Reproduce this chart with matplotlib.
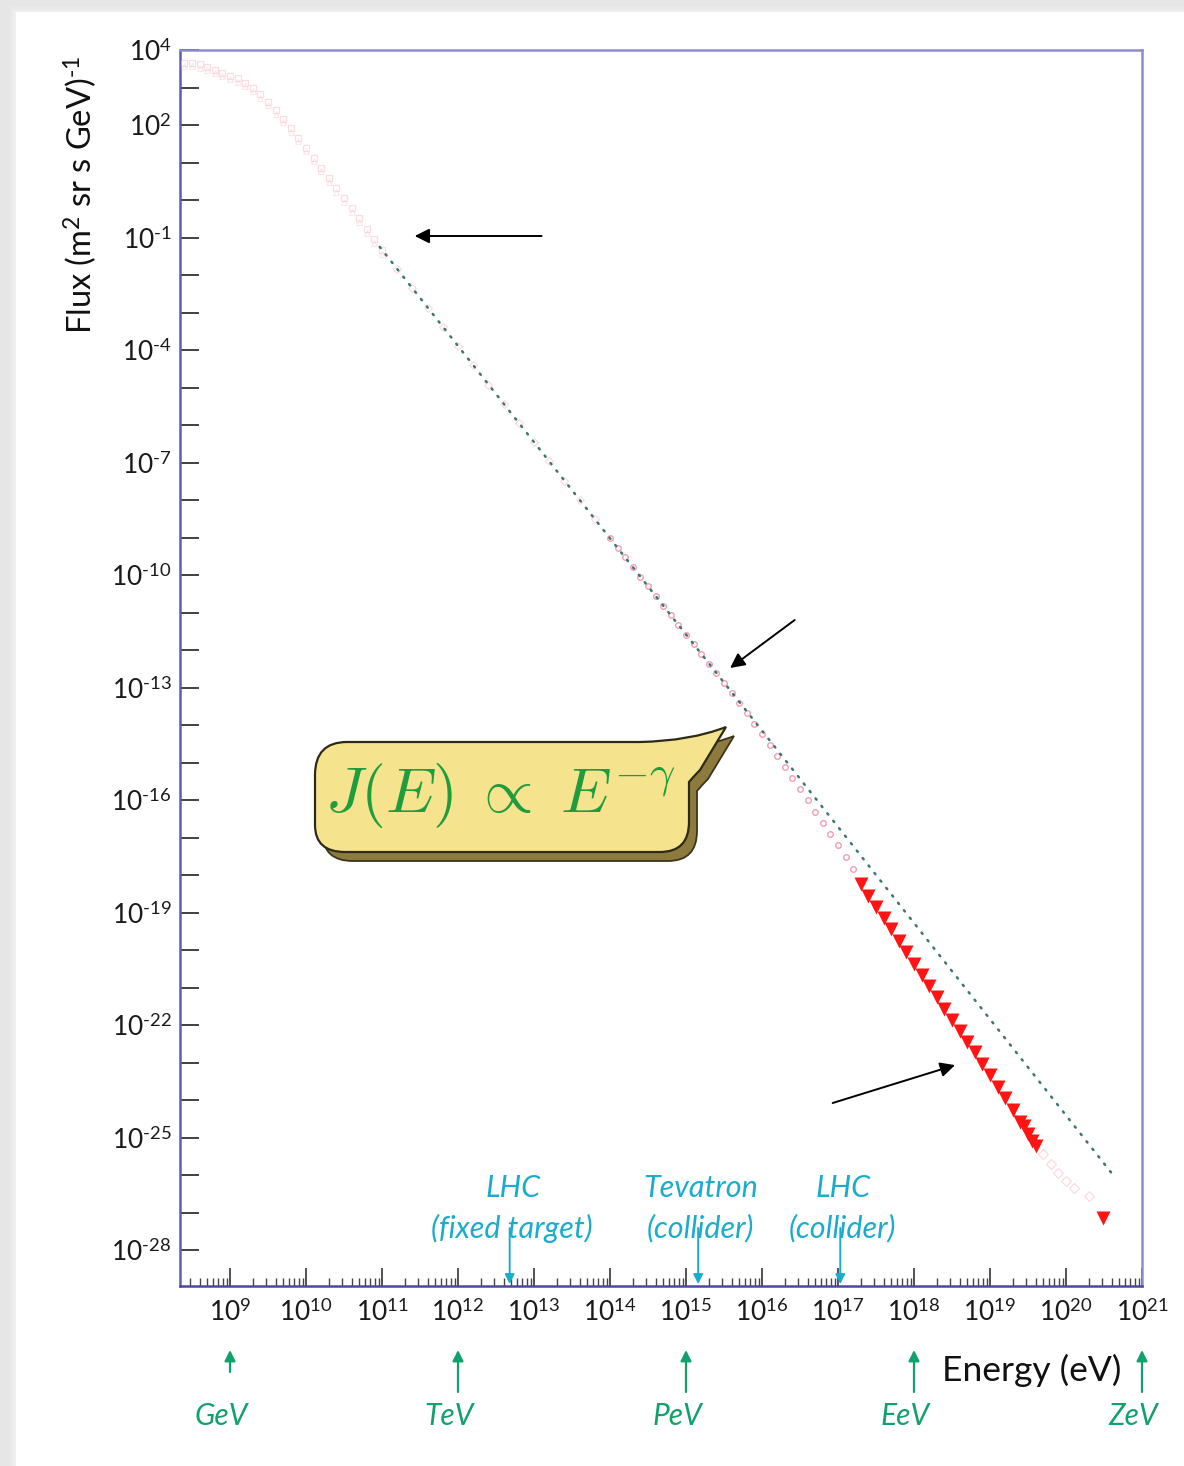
import matplotlib
matplotlib.use("Agg")
import numpy as np
import matplotlib.pyplot as plt
from matplotlib.path import Path
from matplotlib.patches import PathPatch, Rectangle
from matplotlib import transforms as mtransforms
from matplotlib.ticker import FixedLocator, FuncFormatter, LogLocator, NullFormatter

plt.rcParams['font.family'] = ['Lato', 'DejaVu Sans']
plt.rcParams['mathtext.fontset'] = 'custom'
plt.rcParams['mathtext.rm'] = 'Lato'
plt.rcParams['mathtext.it'] = 'Lato:italic'
plt.rcParams['mathtext.bf'] = 'Lato:bold'

# ---------------- data (log10 of energy in eV, log10 of flux) ----------------
low_logE = [8.40, 8.50, 8.60, 8.70, 8.80, 8.90, 9.00, 9.10, 9.20, 9.30, 9.40,
            9.50, 9.60, 9.70, 9.80, 9.90, 10.00, 10.10, 10.20, 10.30, 10.40,
            10.50, 10.60, 10.70, 10.80, 10.90, 11.00]
low_logF = [3.66, 3.66, 3.63, 3.56, 3.48, 3.40, 3.32, 3.24, 3.13, 3.00, 2.82,
            2.62, 2.40, 2.17, 1.92, 1.66, 1.40, 1.13, 0.86, 0.59, 0.32,
            0.05, -0.22, -0.49, -0.77, -1.05, -1.33]

mid_logE = [11.2, 11.4, 11.6, 11.8, 12.0, 12.2, 12.4, 12.6, 12.8, 13.0,
            13.2, 13.4, 13.6, 13.8]
mid_logF = [-1.84, -2.35, -2.87, -3.38, -3.89, -4.41, -4.92, -5.43, -5.94,
            -6.46, -6.97, -7.48, -8.00, -8.51]

knee_logE = [14.0, 14.1, 14.2, 14.3, 14.4, 14.5, 14.6, 14.7, 14.8, 14.9,
             15.0, 15.1, 15.2, 15.3, 15.4, 15.5, 15.6, 15.7, 15.8, 15.9,
             16.0, 16.1, 16.2, 16.3, 16.4, 16.5, 16.6, 16.7, 16.8, 16.9,
             17.0, 17.1, 17.2]
knee_logF = [-9.02, -9.28, -9.53, -9.79, -10.05, -10.30, -10.56, -10.82,
             -11.07, -11.33, -11.59, -11.84, -12.10, -12.36, -12.61, -12.88,
             -13.14, -13.41, -13.68, -13.96, -14.24, -14.53, -14.82, -15.11,
             -15.41, -15.71, -16.01, -16.31, -16.61, -16.91, -17.21, -17.52,
             -17.84]

uhe_logE = [17.30, 17.40, 17.50, 17.60, 17.70, 17.80, 17.90, 18.00, 18.10,
            18.20, 18.30, 18.40, 18.50, 18.60, 18.70, 18.80, 18.90, 19.00,
            19.10, 19.20, 19.30, 19.40, 19.45, 19.50, 19.55, 19.60, 20.49]
uhe_logF = [-18.24, -18.55, -18.86, -19.15, -19.45, -19.76, -20.06, -20.36,
            -20.66, -20.95, -21.25, -21.56, -21.86, -22.16, -22.44, -22.73,
            -23.03, -23.34, -23.64, -23.95, -24.26, -24.58, -24.68, -24.90,
            -25.10, -25.22, -27.15]

tail_logE = [19.70, 19.80, 19.90, 20.00, 20.10, 20.30]
tail_logF = [-25.45, -25.70, -25.95, -26.15, -26.35, -26.55]

# power-law reference J(E) ~ E^-gamma
ref_logE = [10.97, 20.62]
ref_logF = [-1.25, -26.00]

# axis decades
x_label_decades = list(range(9, 22))
y_tick_decades = list(range(-28, 5))
y_label_decades = [4, 2, -1, -4, -7, -10, -13, -16, -19, -22, -25, -28]

# energy-unit markers
unit_names = ['GeV', 'TeV', 'PeV', 'EeV', 'ZeV']
unit_logE = [9, 12, 15, 18, 21]

# accelerator reach
acc_names = ['LHC\n(fixed target)', 'Tevatron\n(collider)', 'LHC\n(collider)']
acc_logE = [12.68, 15.16, 17.03]

# ---------------- figure ----------------
W, H = 1184, 1466
fig = plt.figure(figsize=(W / 100, H / 100), dpi=100, facecolor='#e6e6e6')
px = mtransforms.Affine2D().scale(1 / W, -1 / H).translate(0, 1) + fig.transFigure

# white card with a soft shadow edge
for i, a in enumerate([0.25, 0.35, 0.5]):
    fig.add_artist(Rectangle((10 + 2 * i, 7 + 2 * i), W, H, transform=px,
                             facecolor='#f4f4f4', edgecolor='none', alpha=a, zorder=0))
fig.add_artist(Rectangle((16, 12), W, H, transform=px, facecolor='white',
                         edgecolor='none', zorder=0))

ax = fig.add_axes([180 / W, 1 - 1286 / H, (1142 - 180) / W, (1286 - 50) / H])
ax.set_facecolor('none')
ax.set_xscale('log')
ax.set_yscale('log')
ax.set_xlim(10 ** 8.342, 1e21)
ax.set_ylim(10 ** -28.96, 1e4)

p = lambda v: 10.0 ** np.asarray(v)

# faint measurements
ax.plot(p(low_logE), p(low_logF), ls='none', marker='s', ms=5, mfc='none',
        mec='#f6bcc6', mew=0.9, alpha=0.5, zorder=3)
ax.plot(p(low_logE), p(low_logF) * 0.8, ls='none', marker='^', ms=5, mfc='none',
        mec='#f8ccd3', mew=0.8, alpha=0.45, zorder=3)
ax.plot(p(mid_logE), p(mid_logF), ls='none', marker='D', ms=4.5, mfc='none',
        mec='#f3b3bd', mew=0.8, alpha=0.5, zorder=3)
ax.plot(p(knee_logE), p(knee_logF), ls='none', marker='o', ms=4, mfc='none',
        mec='#ee7f93', mew=1.0, alpha=0.75, zorder=3)
ax.plot(p(tail_logE), p(tail_logF), ls='none', marker='D', ms=5, mfc='none',
        mec='#f4b8c2', mew=0.8, alpha=0.55, zorder=3)

# reference power law
ax.plot(p(ref_logE), p(ref_logF), ls=(0, (0.6, 3.2)), lw=1.8, color='#3f7470',
        dash_capstyle='round', zorder=4)

# ultra-high-energy points
ax.plot(p(uhe_logE), p(uhe_logF), ls='none', marker='v', ms=10, color='#ff1414',
        mec='none', zorder=5)

# ---------------- axes styling ----------------
for side, col in [('left', '#5e5eae'), ('bottom', '#4a4aa0'),
                  ('top', '#8e8ecc'), ('right', '#8e8ecc')]:
    ax.spines[side].set_color(col)
    ax.spines[side].set_linewidth(1.8)


def pow_label(d):
    if d < 0:
        return r'$10^{\text{-}%d}$' % (-d)
    return r'$10^{%d}$' % d


ax.xaxis.set_major_locator(FixedLocator([10.0 ** d for d in x_label_decades]))
ax.xaxis.set_minor_locator(LogLocator(base=10, subs=np.arange(2, 10), numticks=40))
ax.xaxis.set_major_formatter(FuncFormatter(lambda v, pos: pow_label(int(round(np.log10(v))))))
ax.xaxis.set_minor_formatter(NullFormatter())

ax.yaxis.set_major_locator(FixedLocator([10.0 ** d for d in y_tick_decades]))
ax.yaxis.set_minor_locator(FixedLocator([]))


def ylab(v, pos):
    d = int(round(np.log10(v)))
    return pow_label(d) if d in y_label_decades else ''


ax.yaxis.set_major_formatter(FuncFormatter(ylab))

ax.tick_params(axis='x', which='major', direction='in', length=13, width=1.2,
               color='#333333', pad=9, labelsize=19, labelcolor='#1a1a1a',
               top=False)
ax.tick_params(axis='x', which='minor', direction='in', length=6, width=1.0,
               color='#444444', top=False)
ax.tick_params(axis='y', which='major', direction='in', length=14, width=1.3,
               color='#333333', pad=6, labelsize=19, labelcolor='#1a1a1a',
               right=False)

# ---------------- annotations ----------------
arrow_kw = dict(arrowstyle='-|>', color='black', lw=1.4, mutation_scale=22,
                shrinkA=0, shrinkB=0)
ax.annotate('', xy=(10 ** 11.43, 10 ** -0.96), xytext=(10 ** 13.1, 10 ** -0.96),
            arrowprops=arrow_kw, zorder=6)
ax.annotate('', xy=(10 ** 15.58, 10 ** -12.48), xytext=(10 ** 16.43, 10 ** -11.2),
            arrowprops=arrow_kw, zorder=6)
ax.annotate('', xy=(10 ** 18.54, 10 ** -23.07), xytext=(10 ** 16.93, 10 ** -24.08),
            arrowprops=arrow_kw, zorder=6)

# speech bubble with the power-law formula
bubble_verts = [
    (347, 742), (640, 742), (690, 741), (726, 727),
    (700, 770), (694, 776), (689, 782), (689, 822),
    (689, 852), (660, 852), (345, 852),
    (315, 852), (315, 825), (315, 775),
    (315, 742), (347, 742), (347, 742),
]
bubble_codes = [
    Path.MOVETO, Path.LINETO, Path.CURVE3, Path.CURVE3,
    Path.LINETO, Path.CURVE3, Path.CURVE3, Path.LINETO,
    Path.CURVE3, Path.CURVE3, Path.LINETO,
    Path.CURVE3, Path.CURVE3, Path.LINETO,
    Path.CURVE3, Path.CURVE3, Path.CLOSEPOLY,
]
bubble = Path(bubble_verts, bubble_codes)
shadow = mtransforms.Affine2D().translate(8, 9)
fig.add_artist(PathPatch(bubble, transform=shadow + px, facecolor='#8c7b3c',
                         edgecolor='#3b341c', lw=1.3, zorder=7))
fig.add_artist(PathPatch(bubble, transform=px, facecolor='#f6e38e',
                         edgecolor='#2e2a18', lw=1.6, zorder=8))
fig.text(500 / W, 1 - 795 / H, r'$J(E)\;\propto\;E^{-\mathrm{\gamma}}$', math_fontfamily='cm',
         fontsize=46, color='#1f9c3e', ha='center', va='center', zorder=9)

# energy-unit arrows and labels below the axis
green = '#12a06b'
for name, le in zip(unit_names, unit_logE):
    y0 = 1372 if name == 'GeV' else 1392
    ax.annotate('', xy=(10.0 ** le, H - 1350), xycoords=('data', 'figure pixels'),
                xytext=(10.0 ** le, H - y0), textcoords=('data', 'figure pixels'),
                arrowprops=dict(arrowstyle='-|>', color=green, lw=1.6,
                                mutation_scale=16, shrinkA=0, shrinkB=0),
                annotation_clip=False)
    ax.annotate(name, xy=(10.0 ** le, H - 1416), xycoords=('data', 'figure pixels'),
                xytext=(-9, 0), textcoords='offset pixels', ha='center', va='center',
                fontsize=21.5, style='italic', color=green, annotation_clip=False)

fig.text(942 / W, 1 - 1370 / H, 'Energy (eV)', fontsize=25.5, color='#111111',
         ha='left', va='center')

# accelerator energies
cyan = '#1aaccc'
for name, le in zip(acc_names, acc_logE):
    top, bot = name.split('\n')
    ax.annotate(top, xy=(10.0 ** le, H - 1188), xycoords=('data', 'figure pixels'),
                xytext=(3, 0), textcoords='offset pixels', ha='center', va='center',
                fontsize=22, style='italic', color=cyan, annotation_clip=False)
    ax.annotate(bot, xy=(10.0 ** le, H - 1228), xycoords=('data', 'figure pixels'),
                xytext=(2, 0), textcoords='offset pixels', ha='center', va='center',
                fontsize=22, style='italic', color=cyan, annotation_clip=False)
    ax.annotate('', xy=(10.0 ** le, H - 1284), xycoords=('data', 'figure pixels'),
                xytext=(10.0 ** le, H - 1228), textcoords=('data', 'figure pixels'),
                arrowprops=dict(arrowstyle='-|>', color=cyan, lw=1.4,
                                mutation_scale=14, shrinkA=0, shrinkB=0),
                annotation_clip=False)

fig.text(80 / W, 1 - 195 / H, r'Flux (m$^2$ sr s GeV)$^{\text{-}1}$', rotation=90,
         fontsize=23.5, color='#111111', ha='center', va='center')

fig.savefig('out.png', dpi=100, facecolor=fig.get_facecolor())
